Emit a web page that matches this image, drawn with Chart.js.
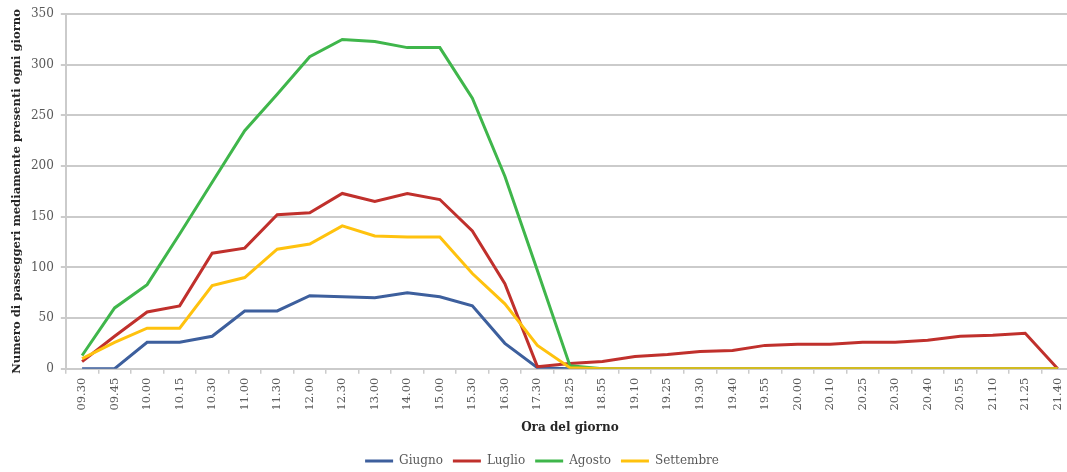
<!DOCTYPE html>
<html>
<head>
<meta charset="utf-8">
<script src="https://cdn.jsdelivr.net/npm/chart.js@4.4.1/dist/chart.umd.min.js"></script>
<style>
  html, body { margin: 0; padding: 0; background: #fff; overflow: hidden; }
  #wrap { width: 1076px; height: 472px; position: relative; }
</style>
</head>
<body>
<div id="wrap"><canvas id="passeggeriChart"></canvas></div>
<script>
// Ore di rilevazione (asse x)
const orari = ['09.30', '09.45', '10.00', '10.15', '10.30', '11.00', '11.30', '12.00', '12.30', '13.00',
  '14.00', '15.00', '15.30', '16.30', '17.30', '18.25', '18.55', '19.10', '19.25', '19.30',
  '19.40', '19.55', '20.00', '20.10', '20.25', '20.30', '20.40', '20.55', '21.10', '21.25', '21.40'];

// Passeggeri mediamente presenti, per mese
const giugno = [0, 0, 26, 26, 32, 57, 57, 72, 71, 70, 75, 71, 62, 25, 1, 0,
  0, 0, 0, 0, 0, 0, 0, 0, 0, 0, 0, 0, 0, 0, 0];
const luglio = [7, 32, 56, 62, 114, 119, 152, 154, 173, 165, 173, 167, 136, 84, 2, 5,
  7, 12, 14, 17, 18, 23, 24, 24, 26, 26, 28, 32, 33, 35, 0];
const agosto = [13, 60, 83, 133, 184, 235, 271, 308, 325, 323, 317, 317, 267, 190, 97, 3,
  0, 0, 0, 0, 0, 0, 0, 0, 0, 0, 0, 0, 0, 0, 0];
const settembre = [10, 26, 40, 40, 82, 90, 118, 123, 141, 131, 130, 130, 94, 64, 23, 1,
  0, 0, 0, 0, 0, 0, 0, 0, 0, 0, 0, 0, 0, 0, 0];

const yTicks = { min: 0, max: 350, step: 50 };

const colors = {
  giugno: '#3d5f9d',
  luglio: '#c0302c',
  agosto: '#3fb64b',
  settembre: '#ffc20e',
  grid: '#cbcbcb',
  tick: '#595959',
  title: '#262626'
};

const serif = "'DejaVu Serif', serif";

function serie(label, data, color, order) {
  return {
    label: label,
    data: data,
    borderColor: color,
    backgroundColor: color,
    borderWidth: 3,
    pointRadius: 0,
    tension: 0,
    order: order // Settembre sopra, come nel grafico Excel
  };
}

new Chart(document.getElementById('passeggeriChart'), {
  type: 'line',
  data: {
    labels: orari,
    datasets: [
      serie('Giugno', giugno, colors.giugno, 3),
      serie('Luglio', luglio, colors.luglio, 2),
      serie('Agosto', agosto, colors.agosto, 1),
      serie('Settembre', settembre, colors.settembre, 0)
    ]
  },
  options: {
    responsive: true,
    maintainAspectRatio: false,
    animation: false,
    layout: { padding: { top: 9, right: 2, left: 10, bottom: -5 } },
    plugins: {
      tooltip: { enabled: false },
      legend: {
        position: 'bottom',
        labels: {
          usePointStyle: true,
          pointStyle: 'line',
          pointStyleWidth: 28,
          padding: 10,
          color: colors.tick,
          font: { family: serif, size: 12 },
          sort: (a, b) => a.datasetIndex - b.datasetIndex
        }
      }
    },
    scales: {
      x: {
        offset: true,
        border: { display: true, color: colors.grid, width: 2 },
        grid: { display: true, offset: true, drawOnChartArea: false, drawTicks: true, tickLength: 5, color: colors.grid, lineWidth: 1.5 },
        ticks: {
          minRotation: 90,
          maxRotation: 90,
          autoSkip: false,
          color: colors.tick,
          font: { family: serif, size: 11.5 },
          padding: 4
        },
        title: {
          display: true,
          text: 'Ora del giorno',
          color: colors.title,
          font: { family: serif, size: 12, weight: 'bold' },
          padding: { top: 6, bottom: 10 }
        }
      },
      y: {
        min: yTicks.min,
        max: yTicks.max,
        border: { display: true, color: colors.grid, width: 2 },
        grid: { color: colors.grid, lineWidth: 2, tickLength: 5 },
        ticks: {
          stepSize: yTicks.step,
          color: colors.tick,
          font: { family: serif, size: 12 },
          padding: 7
        },
        title: {
          display: true,
          text: 'Numero di passeggeri mediamente presenti ogni giorno',
          color: colors.title,
          font: { family: serif, size: 11.6, weight: 'bold' },
          padding: { top: 0, bottom: 0 }
        }
      }
    }
  }
});
</script>
</body>
</html>
